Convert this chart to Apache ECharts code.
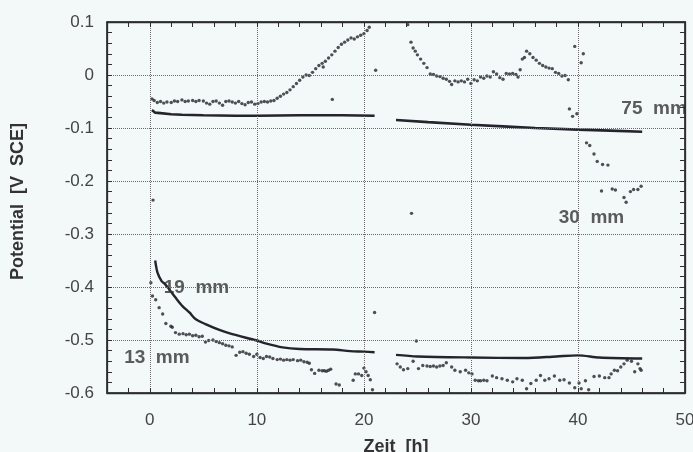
<!DOCTYPE html>
<html><head><meta charset="utf-8">
<script src="https://cdn.jsdelivr.net/npm/echarts@6/dist/echarts.min.js"></script>
<style>html,body{margin:0;padding:0;background:#f3f8f8}#c{width:693px;height:452px}</style>
</head><body><div id="c"></div>
<script>
// ---- data ----
var xTickLabels = [0, 10, 20, 30, 40, 50];
var yTickLabels = [-0.6, -0.5, -0.4, -0.3, -0.2, -0.1, 0, 0.1];
var xRange = [-4, 50];
var yRange = [-0.6, 0.1];

// 75 mm : solid line (gap between 21 h and 23 h)
var s75 = [[0.2,-0.066],[0.5,-0.071],[1,-0.072],[2,-0.074],[3,-0.075],[5,-0.076],[8,-0.077],[10,-0.077],
  [14,-0.076],[18,-0.076],[21,-0.077],null,
  [23,-0.085],[26,-0.089],[30,-0.094],[33,-0.097],[36,-0.100],[40,-0.103],[43,-0.105],[46,-0.107]];

// 30 mm : dots
var s30 = [[0.2,-0.045],[0.4,-0.048],[0.7,-0.052],[1.0,-0.050],[1.3,-0.053],[1.6,-0.051],[2.0,-0.052],[2.3,-0.049],
  [2.6,-0.050],[3.0,-0.047],[3.3,-0.050],[3.6,-0.049],[4.0,-0.048],[4.3,-0.050],[4.6,-0.048],[5.0,-0.049],
  [5.3,-0.053],[5.6,-0.055],[5.9,-0.050],[6.2,-0.049],[6.5,-0.053],[6.8,-0.057],[7.1,-0.050],[7.4,-0.049],
  [7.7,-0.051],[8.0,-0.053],[8.3,-0.050],[8.6,-0.054],[8.9,-0.056],[9.2,-0.052],[9.5,-0.051],[9.8,-0.055],
  [10.1,-0.054],[10.4,-0.051],[10.7,-0.050],[11.0,-0.051],[11.3,-0.049],[11.6,-0.048],[11.9,-0.044],[12.2,-0.040],
  [12.5,-0.036],[12.8,-0.033],[13.1,-0.028],[13.4,-0.022],[13.7,-0.016],[14.0,-0.010],[14.3,-0.004],[14.6,0.000],
  [14.9,-0.001],[15.2,0.005],[15.5,0.012],[15.8,0.018],[16.1,0.022],[16.4,0.026],[16.2,0.015],[16.7,0.032],
  [17.0,0.038],[17.3,0.045],[17.6,0.052],[17.9,0.058],[18.2,0.062],[18.5,0.066],[18.8,0.070],[19.1,0.068],
  [19.4,0.072],[19.7,0.075],[20.0,0.078],[20.3,0.084],[20.5,0.090],[17.05,-0.046],[0.3,-0.236],[21.1,0.009],
  [24.1,0.095],[24.4,0.062],[24.6,0.051],[24.8,0.045],[25.0,0.038],[25.3,0.030],[25.6,0.022],[25.9,0.014],
  [26.2,0.002],[26.5,0.001],[26.8,-0.002],[27.1,-0.003],[27.4,-0.006],[27.7,-0.008],[28.0,-0.012],[28.2,-0.018],
  [28.5,-0.011],[28.8,-0.013],[29.1,-0.011],[29.4,-0.013],[29.7,-0.008],[30.0,-0.016],[30.3,-0.009],[30.6,-0.011],
  [30.9,-0.004],[31.2,-0.006],[31.5,-0.002],[31.8,-0.004],[32.1,0.006],[32.4,0.002],[32.7,-0.005],[33.0,-0.008],
  [33.3,0.003],[33.6,0.002],[33.9,0.003],[34.2,0.001],[34.4,-0.004],[34.6,0.010],[34.8,0.030],[35.0,0.033],
  [35.2,0.045],[35.5,0.040],[35.8,0.033],[36.1,0.028],[36.4,0.022],[36.7,0.018],[37.0,0.015],[37.3,0.013],
  [37.6,0.012],[37.9,0.005],[38.2,0.003],[38.5,-0.002],[38.8,-0.001],[39.1,-0.009],[39.7,0.054],[40.3,0.023],
  [40.5,0.040],[39.2,-0.064],[39.5,-0.078],[39.9,-0.073],[40.8,-0.128],[41.1,-0.133],[41.5,-0.149],[41.8,-0.163],
  [42.3,-0.169],[42.8,-0.170],[42.2,-0.219],[43.2,-0.215],[43.5,-0.217],[44.3,-0.231],[44.5,-0.240],[44.9,-0.220],
  [45.2,-0.216],[45.6,-0.216],[45.9,-0.210],[24.45,-0.261]];

// 19 mm : solid line (gap between 21 h and 23 h)
var s19 = [[0.5,-0.350],[0.72,-0.373],[1.1,-0.389],[1.4,-0.394],[1.8,-0.404],[2.4,-0.420],[3.05,-0.436],[3.7,-0.448],
  [4.3,-0.461],[5.2,-0.470],[6.5,-0.481],[7.7,-0.489],[10,-0.501],[10.9,-0.507],[12.4,-0.514],[14,-0.517],
  [17.1,-0.518],[18.7,-0.521],[20,-0.522],[21,-0.523],null,
  [23,-0.528],[25,-0.531],[30,-0.533],[35,-0.534],[38,-0.531],[40,-0.529],[42,-0.533],[46,-0.535]];

// 13 mm : dots
var s13 = [[0.1,-0.392],[0.25,-0.417],[0.55,-0.424],[0.87,-0.439],[1.2,-0.451],[1.5,-0.469],[1.97,-0.474],[2.1,-0.476],
  [2.4,-0.486],[2.75,-0.489],[3.1,-0.488],[3.4,-0.490],[3.7,-0.489],[4.0,-0.492],[4.3,-0.491],[4.6,-0.494],
  [4.9,-0.493],[5.2,-0.504],[5.5,-0.501],[5.9,-0.500],[6.2,-0.503],[6.5,-0.505],[6.8,-0.507],[7.1,-0.510],
  [7.4,-0.511],[7.7,-0.513],[8.06,-0.529],[8.4,-0.523],[8.7,-0.522],[9.0,-0.525],[9.3,-0.527],[9.7,-0.531],
  [10.0,-0.527],[10.3,-0.533],[10.6,-0.535],[10.9,-0.531],[11.2,-0.532],[11.5,-0.535],[11.9,-0.537],[12.2,-0.536],
  [12.5,-0.538],[12.8,-0.537],[13.1,-0.538],[13.4,-0.537],[13.8,-0.539],[14.1,-0.538],[14.4,-0.541],[14.7,-0.542],
  [14.9,-0.544],[15.1,-0.556],[15.4,-0.563],[15.8,-0.557],[16.1,-0.558],[16.3,-0.558],[16.5,-0.559],[16.7,-0.557],
  [16.9,-0.555],[17.4,-0.583],[17.7,-0.585],[19.0,-0.576],[19.2,-0.564],[19.5,-0.564],[19.8,-0.567],[20.0,-0.553],
  [20.2,-0.560],[20.4,-0.567],[20.6,-0.575],[20.8,-0.594],[21.0,-0.448],[24.9,-0.502],
  [23.1,-0.545],[23.4,-0.551],[23.7,-0.556],[24.1,-0.554],[24.6,-0.540],[25.1,-0.554],[25.5,-0.548],[25.9,-0.549],
  [26.2,-0.550],[26.5,-0.549],[26.8,-0.551],[27.1,-0.549],[27.4,-0.548],[27.7,-0.543],[28.2,-0.551],[28.5,-0.557],
  [29.0,-0.560],[29.5,-0.557],[29.8,-0.562],[30.1,-0.564],[30.4,-0.576],[30.7,-0.577],[30.9,-0.577],[31.2,-0.576],
  [31.5,-0.577],[32.0,-0.568],[32.4,-0.571],[32.9,-0.573],[33.4,-0.576],[33.9,-0.579],[34.3,-0.573],[34.8,-0.576],
  [35.2,-0.592],[35.6,-0.582],[36.1,-0.576],[36.5,-0.567],[36.9,-0.576],[37.3,-0.573],[37.8,-0.568],[38.3,-0.576],
  [38.7,-0.575],[39.2,-0.581],[39.7,-0.590],[40.1,-0.581],[40.3,-0.592],[40.7,-0.577],[41.0,-0.594],[41.5,-0.569],
  [42.0,-0.568],[42.5,-0.571],[42.9,-0.571],[43.1,-0.564],[43.4,-0.557],[43.7,-0.558],[44.0,-0.551],[44.3,-0.545],
  [44.6,-0.538],[45.0,-0.540],[45.3,-0.560],[45.6,-0.545],[45.8,-0.554],[45.9,-0.557]];

// curve labels
var curveLabels = [
  {name: '75  mm', value: [44.05, -0.064]},
  {name: '30  mm', value: [38.2, -0.270]},
  {name: '19  mm', value: [1.3, -0.402]},
  {name: '13  mm', value: [-2.4, -0.533]}
];

// ---- chart ----
var ink = '#24242c';
var frame = '#2e2e2e';
var fontFam = '"Liberation Sans", Arial, Helvetica, sans-serif';
function isLab(v, arr) { for (var i = 0; i < arr.length; i++) if (Math.abs(v - arr[i]) < 1e-6) return true; return false; }

function xBase() { return {type: 'value', min: xRange[0], max: xRange[1], interval: 2, z: 10,
  axisLine: {show: true, onZero: false, lineStyle: {color: frame, width: 1.3}},
  axisTick: {show: true, inside: true, length: 5, lineStyle: {color: frame}}}; }
function yBase() { return {type: 'value', min: yRange[0], max: yRange[1], interval: 0.02, z: 10,
  axisLine: {show: true, onZero: false, lineStyle: {color: frame, width: 1.3}},
  axisTick: {show: true, inside: true, length: 5, lineStyle: {color: frame}}}; }
var gridDot = {type: 'dotted', width: 1};

var xBottom = Object.assign(xBase(), {position: 'bottom', name: 'Zeit  [h]', nameLocation: 'middle', nameGap: 45,
  nameTextStyle: {fontFamily: fontFam, fontWeight: 'bold', fontSize: 18, color: '#333'},
  axisLabel: {margin: 19, fontFamily: fontFam, fontSize: 17, color: '#444',
    formatter: function (v) { return isLab(v, xTickLabels) ? String(Math.round(v)) : ''; }},
  splitLine: {show: true, lineStyle: Object.assign({}, gridDot, {color: ['transparent','transparent','#6a6a6a','transparent','transparent']})}});
var xTop = Object.assign(xBase(), {position: 'top', axisLabel: {show: false}, splitLine: {show: false}});
var yLeft = Object.assign(yBase(), {position: 'left', name: 'Potential  [V  SCE]', nameLocation: 'middle', nameGap: 80, nameRotate: 90,
  nameTextStyle: {fontFamily: fontFam, fontWeight: 'bold', fontSize: 18, color: '#333', padding: [0, 0, 0, 12]},
  axisLabel: {margin: 13, fontFamily: fontFam, fontSize: 17, color: '#444',
    formatter: function (v) { if (!isLab(v, yTickLabels)) return ''; var r = Math.round(v * 10) / 10; return r === 0 ? '0' : String(r); }},
  splitLine: {show: true, lineStyle: Object.assign({}, gridDot, {color: ['#6a6a6a','transparent','transparent','transparent','transparent']})}});
var yRight = Object.assign(yBase(), {position: 'right', axisLabel: {show: false}, splitLine: {show: false}});

function dotSeries(name, data) {
  return {type: 'scatter', name: name, data: data, symbol: 'circle', symbolSize: 3.4,
    itemStyle: {color: ink, borderWidth: 0}, z: 4, silent: true};
}

var chart = echarts.init(document.getElementById('c'), null, {renderer: 'canvas'});
chart.setOption({
  backgroundColor: '#f3f8f8',
  animation: false,
  grid: {left: 107, right: 8, top: 22, bottom: 59, outerBoundsMode: 'none', show: true, borderColor: frame, borderWidth: 1.2, backgroundColor: 'transparent'},
  xAxis: [xBottom, xTop],
  yAxis: [yLeft, yRight],
  series: [
    {type: 'line', name: '75 mm', data: s75, showSymbol: false, connectNulls: false, lineStyle: {color: ink, width: 2.6}, z: 3},
    {type: 'line', name: '19 mm', data: s19, showSymbol: false, connectNulls: false, smooth: 0.3, lineStyle: {color: ink, width: 2.4}, z: 3},
    dotSeries('30 mm', s30),
    dotSeries('13 mm', s13),
    {type: 'scatter', name: 'labels', xAxisIndex: 1, yAxisIndex: 1, data: curveLabels, symbolSize: 0, z: 5, silent: true,
      label: {show: true, position: 'right', distance: 0, formatter: '{b}', fontFamily: fontFam, fontWeight: 'bold', fontSize: 19, color: '#333'}}
  ]
});

// plot frame, positioned through the axes' own scales
var pTL = chart.convertToPixel({xAxisIndex: 0, yAxisIndex: 0}, [xRange[0], yRange[1]]);
var pBR = chart.convertToPixel({xAxisIndex: 0, yAxisIndex: 0}, [xRange[1], yRange[0]]);
chart.setOption({
  graphic: [{type: 'rect', z: 100, silent: true,
    shape: {x: pTL[0], y: pTL[1], width: pBR[0] - pTL[0], height: pBR[1] - pTL[1]},
    style: {fill: null, stroke: frame, lineWidth: 1.3}}]
});
</script></body></html>
